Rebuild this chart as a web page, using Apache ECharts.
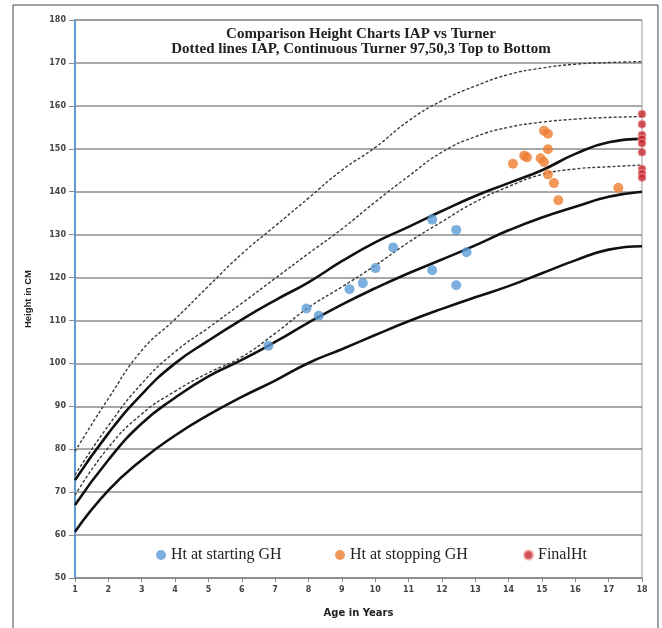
<!DOCTYPE html>
<html>
<head>
<meta charset="utf-8">
<script src="https://cdn.jsdelivr.net/npm/echarts@6/dist/echarts.min.js"></script>
<style>
  html, body { margin: 0; padding: 0; background: #fff; }
  #chart { width: 662px; height: 628px; }
</style>
</head>
<body>
<div id="chart"></div>
<script>
// ages for the reference curves
const ages = [1, 2, 3, 4, 5, 6, 7, 8, 9, 10, 11, 12, 13, 14, 15, 16, 17, 18];

// IAP (dotted) 97 / 50 / 3
const iap97 = [79.5, 91.8, 103, 110.3, 118, 125.5, 132, 138.5, 145, 150.3, 156.5, 161.2, 164.6, 167.3, 168.8, 169.7, 170.1, 170.3];
const iap50 = [74, 85.5, 95.3, 102.7, 108.3, 114, 119.8, 125.6, 131.3, 137.6, 143.6, 149.2, 152.8, 155, 156.2, 156.9, 157.3, 157.5];
const iap3 = [69.3, 80.4, 88.2, 93.5, 97.8, 101.5, 107, 113, 117.8, 122.8, 128.2, 133, 137.6, 141.2, 144, 145.3, 145.8, 146.2];

// Turner (continuous) 97 / 50 / 3
const turner97 = [72.8, 83.7, 92.8, 100, 105.3, 110.2, 114.7, 118.9, 123.8, 128.2, 131.8, 135.5, 139, 142, 145, 148.8, 151.5, 152.3];
const turner50 = [67, 77.5, 86, 92, 97, 100.8, 105, 109.5, 113.7, 117.5, 121, 124.2, 127.5, 131, 134, 136.5, 138.8, 140];
const turner3 = [60.8, 70.4, 77.5, 83.2, 88, 92.2, 96, 100.1, 103.3, 106.6, 109.8, 112.7, 115.4, 118, 121, 124, 126.5, 127.3];

// patients
const startAge = [6.8, 7.94, 8.31, 9.23, 9.63, 10.01, 10.54, 11.71, 12.43, 12.74, 11.71, 12.43];
const startHt = [104.1, 112.8, 111.1, 117.3, 118.7, 122.2, 127.0, 133.5, 131.1, 125.9, 121.7, 118.2];

const stopAge = [15.06, 15.18, 15.18, 14.47, 14.55, 14.13, 14.96, 15.06, 15.18, 15.36, 15.49, 17.29];
const stopHt = [154.2, 153.5, 149.9, 148.4, 148.0, 146.5, 147.8, 146.9, 144.0, 142.0, 138.0, 140.9];

const finalAge = [18, 18, 18, 18, 18, 18, 18, 18, 18];
const finalHt = [158.1, 155.7, 153.2, 152.3, 151.3, 149.2, 145.3, 144.2, 143.3];

const pairs = (xs, ys) => xs.map((x, i) => [x, ys[i]]);

const dotted = { color: "#3a3a3a", width: 1.4, type: [3, 2] };
const solid = { color: "#111", width: 2.6 };

const curve = (name, values, style) => ({
  name: name,
  type: "line",
  data: pairs(ages, values),
  smooth: 0.5,
  showSymbol: false,
  silent: true,
  lineStyle: style,
  z: 2,
});

const legendText = { fontFamily: "Liberation Serif", fontSize: 16, color: "#222" };

const option = {
  animation: false,
  backgroundColor: "#fff",
  title: {
    text: "Comparison Height Charts IAP vs Turner\nDotted lines IAP, Continuous Turner 97,50,3 Top to Bottom",
    left: 356,
    top: 22,
    textAlign: "center",
    textStyle: {
      fontFamily: "Liberation Serif",
      fontWeight: "bold",
      fontSize: 15,
      lineHeight: 15,
      color: "#222",
    },
  },
  graphic: [
    {
      type: "rect",
      shape: { x: 13, y: 5, width: 645, height: 640 },
      style: { fill: "none", stroke: "#444", lineWidth: 1 },
      silent: true,
    },
  ],
  legend: [
    { data: ["Ht at starting GH"], left: 151, top: 542, icon: "circle", itemWidth: 10, itemHeight: 10, itemGap: 4, textStyle: legendText },
    { data: ["Ht at stopping GH"], left: 330, top: 542, icon: "circle", itemWidth: 10, itemHeight: 10, itemGap: 4, textStyle: legendText },
    { data: ["FinalHt"], left: 518, top: 542, icon: "circle", itemWidth: 9, itemHeight: 9, itemGap: 4, textStyle: legendText },
  ],
  grid: {
    left: 75,
    right: 20,
    top: 20,
    bottom: 50,
    show: true,
    borderColor: "#9a9a9a",
    borderWidth: 1,
  },
  xAxis: {
    type: "value",
    min: 1,
    max: 18,
    interval: 1,
    name: "Age in Years",
    nameLocation: "middle",
    nameGap: 30,
    nameTextStyle: { fontFamily: "DejaVu Sans", fontWeight: "bold", fontSize: 10, color: "#222" },
    axisLine: { onZero: false, lineStyle: { color: "#8a8a8a", width: 1.5 } },
    axisTick: { show: true, length: 4, lineStyle: { color: "#8a8a8a" } },
    axisLabel: { fontFamily: "DejaVu Sans", fontWeight: "bold", fontSize: 8, color: "#444", margin: 8 },
    splitLine: { show: false },
  },
  yAxis: {
    type: "value",
    min: 50,
    max: 180,
    interval: 10,
    name: "Height in CM",
    nameLocation: "middle",
    nameGap: 42,
    nameRotate: 90,
    nameTextStyle: { fontFamily: "Liberation Sans", fontWeight: "bold", fontSize: 9.5, color: "#222" },
    axisLine: { show: true, lineStyle: { color: "#5b9bd5", width: 2 } },
    axisTick: { show: true, length: 6, lineStyle: { color: "#8a8a8a" } },
    axisLabel: { fontFamily: "DejaVu Sans", fontWeight: "bold", fontSize: 8, color: "#444", margin: 9 },
    splitLine: { lineStyle: { color: "#8c8c8c", width: 1.5 } },
  },
  series: [
    curve("IAP 97", iap97, dotted),
    curve("IAP 50", iap50, dotted),
    curve("IAP 3", iap3, dotted),
    curve("Turner 97", turner97, solid),
    curve("Turner 50", turner50, solid),
    curve("Turner 3", turner3, solid),
    {
      name: "Ht at starting GH",
      type: "scatter",
      data: pairs(startAge, startHt),
      symbolSize: 10,
      itemStyle: { color: "#5b9bd5" },
      z: 5,
    },
    {
      name: "Ht at stopping GH",
      type: "scatter",
      data: pairs(stopAge, stopHt),
      symbolSize: 10,
      itemStyle: { color: "#ed7d31" },
      z: 5,
    },
    {
      name: "FinalHt",
      type: "scatter",
      data: pairs(finalAge, finalHt),
      symbolSize: 8,
      itemStyle: { color: "#c4262e", borderColor: "#f2a3a3", borderWidth: 1 },
      z: 6,
    },
  ],
};

const myChart = echarts.init(document.getElementById("chart"));
myChart.setOption(option);
</script>
</body>
</html>
